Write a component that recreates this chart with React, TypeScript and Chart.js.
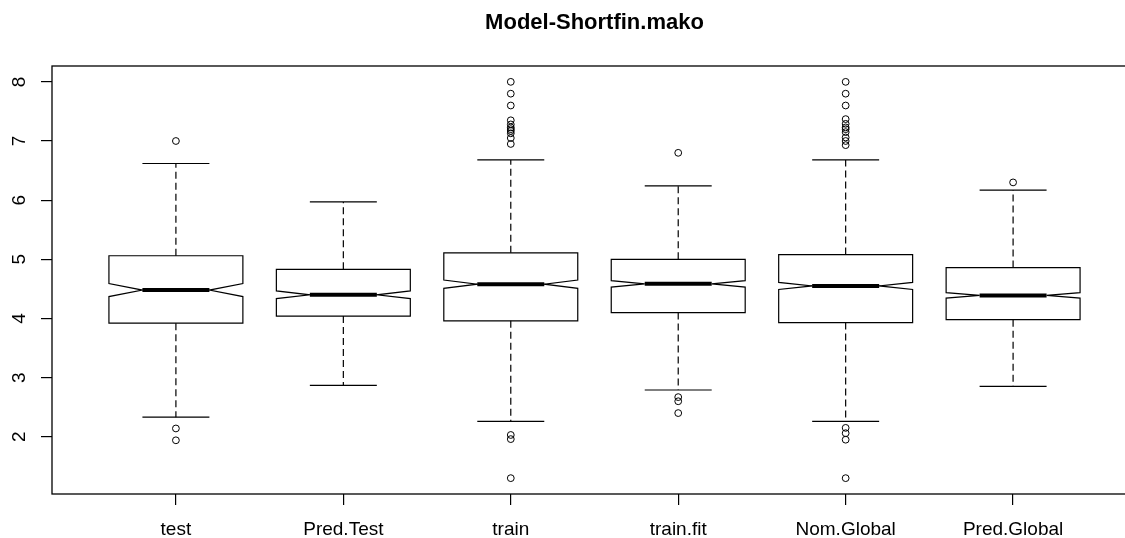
import React, { useEffect, useRef } from "react";
import { Chart, registerables } from "chart.js";

Chart.register(...registerables);

// Notched box plot of observed vs predicted lengths
const title = "Model-Shortfin.mako";
const categories = ["test", "Pred.Test", "train", "train.fit", "Nom.Global", "Pred.Global"];
const whiskerLow = [2.33, 2.87, 2.26, 2.79, 2.26, 2.85];
const lowerQuartile = [3.92, 4.04, 3.96, 4.1, 3.93, 3.98];
const notchLow = [4.37, 4.335, 4.51, 4.53, 4.49, 4.345];
const medians = [4.48, 4.4, 4.58, 4.585, 4.55, 4.39];
const notchHigh = [4.59, 4.465, 4.65, 4.64, 4.61, 4.435];
const upperQuartile = [5.06, 4.83, 5.11, 5.0, 5.08, 4.86];
const whiskerHigh = [6.62, 5.97, 6.68, 6.24, 6.68, 6.17];
const outliers = [
  [7.0, 2.14, 1.94],
  [],
  [8.0, 7.8, 7.6, 7.35, 7.28, 7.23, 7.2, 7.17, 7.13, 7.05, 6.95, 2.03, 1.96, 1.3],
  [6.8, 2.67, 2.6, 2.4],
  [8.0, 7.8, 7.6, 7.37, 7.29, 7.23, 7.2, 7.15, 7.06, 7.0, 6.93, 2.15, 2.06, 1.95, 1.3],
  [6.3],
];
const yTicks = [2, 3, 4, 5, 6, 7, 8];
const xTicks = categories.map((_, i) => i + 1);

const BOX_HALF = 0.4; // half of the box width, in category units
const STAPLE_HALF = 0.2;
const FONT = "'Liberation Sans', Arial, sans-serif";

const boxPlugin = {
  id: "notchedBoxes",
  afterDatasetsDraw(chart: any) {
    const { ctx, scales } = chart;
    const xs = scales.x;
    const ys = scales.y;
    ctx.save();
    ctx.strokeStyle = "#000";
    categories.forEach((_, i) => {
      const c = i + 1;
      const xl = xs.getPixelForValue(c - BOX_HALF);
      const xr = xs.getPixelForValue(c + BOX_HALF);
      const xnl = xs.getPixelForValue(c - BOX_HALF / 2);
      const xnr = xs.getPixelForValue(c + BOX_HALF / 2);
      const xc = xs.getPixelForValue(c);
      const sl = xs.getPixelForValue(c - STAPLE_HALF);
      const sr = xs.getPixelForValue(c + STAPLE_HALF);
      const yq1 = ys.getPixelForValue(lowerQuartile[i]);
      const yq3 = ys.getPixelForValue(upperQuartile[i]);
      const ynl = ys.getPixelForValue(notchLow[i]);
      const ynh = ys.getPixelForValue(notchHigh[i]);
      const ym = ys.getPixelForValue(medians[i]);
      const ywl = ys.getPixelForValue(whiskerLow[i]);
      const ywh = ys.getPixelForValue(whiskerHigh[i]);

      // whiskers
      ctx.lineWidth = 1.2;
      ctx.setLineDash([7, 4]);
      ctx.beginPath();
      ctx.moveTo(xc, yq1);
      ctx.lineTo(xc, ywl);
      ctx.moveTo(xc, yq3);
      ctx.lineTo(xc, ywh);
      ctx.stroke();
      ctx.setLineDash([]);
      // staples
      ctx.beginPath();
      ctx.moveTo(sl, ywl);
      ctx.lineTo(sr, ywl);
      ctx.moveTo(sl, ywh);
      ctx.lineTo(sr, ywh);
      ctx.stroke();

      // notched box outline
      ctx.beginPath();
      ctx.moveTo(xl, yq1);
      ctx.lineTo(xl, ynl);
      ctx.lineTo(xnl, ym);
      ctx.lineTo(xl, ynh);
      ctx.lineTo(xl, yq3);
      ctx.lineTo(xr, yq3);
      ctx.lineTo(xr, ynh);
      ctx.lineTo(xnr, ym);
      ctx.lineTo(xr, ynl);
      ctx.lineTo(xr, yq1);
      ctx.closePath();
      ctx.stroke();

      // median bar
      ctx.lineWidth = 4;
      ctx.beginPath();
      ctx.moveTo(xnl, ym);
      ctx.lineTo(xnr, ym);
      ctx.stroke();
    });
    ctx.restore();
  },
  afterDraw(chart: any) {
    const { ctx, chartArea, scales } = chart;
    ctx.save();
    // plot frame
    ctx.strokeStyle = "#000";
    ctx.lineWidth = 1.3;
    ctx.strokeRect(chartArea.left, chartArea.top, chartArea.right - chartArea.left, chartArea.bottom - chartArea.top);

    ctx.fillStyle = "#000";
    // title
    ctx.font = `bold 22px ${FONT}`;
    ctx.textAlign = "center";
    ctx.textBaseline = "alphabetic";
    ctx.fillText(title, (chartArea.left + chartArea.right) / 2, 29);

    // x axis labels
    ctx.font = `19px ${FONT}`;
    scales.x.ticks.forEach((t: any) => {
      const label = categories[Math.round(t.value) - 1];
      if (label) ctx.fillText(label, scales.x.getPixelForValue(t.value), 535);
    });

    // y axis labels, rotated like R's default
    scales.y.ticks.forEach((t: any) => {
      const y = scales.y.getPixelForValue(t.value);
      ctx.save();
      ctx.translate(24.5, y);
      ctx.rotate(-Math.PI / 2);
      ctx.fillText(String(t.value), 0, 0);
      ctx.restore();
    });
    ctx.restore();
  },
};

export default function App() {
  const ref = useRef<HTMLCanvasElement>(null);

  useEffect(() => {
    if (!ref.current) return;
    const points = outliers.flatMap((vals, i) => vals.map((v) => ({ x: i + 1, y: v })));
    const chart = new Chart(ref.current, {
      type: "scatter",
      data: {
        datasets: [
          {
            label: "outliers",
            data: points,
            pointStyle: "circle",
            pointRadius: 3.4,
            pointBorderWidth: 1,
            borderColor: "#000",
            backgroundColor: "rgba(0,0,0,0)",
          },
        ],
      },
      options: {
        responsive: false,
        animation: false,
        devicePixelRatio: 1,
        layout: { padding: { top: 66, right: 8, left: 0, bottom: 0 } },
        plugins: {
          legend: { display: false },
          tooltip: { enabled: false },
          title: { display: false },
        },
        scales: {
          x: {
            type: "linear",
            min: 0.26,
            max: 6.74,
            afterBuildTicks: (s: any) => {
              s.ticks = xTicks.map((v) => ({ value: v }));
            },
            afterFit: (s: any) => {
              s.height = 44;
            },
            ticks: { display: false },
            grid: { drawOnChartArea: false, drawTicks: true, tickLength: 11, color: "#000", lineWidth: 1.2 },
            border: { display: false },
          },
          y: {
            type: "linear",
            min: 1.032,
            max: 8.268,
            afterBuildTicks: (s: any) => {
              s.ticks = yTicks.map((v) => ({ value: v }));
            },
            afterFit: (s: any) => {
              s.width = 52;
            },
            ticks: { display: false },
            grid: { drawOnChartArea: false, drawTicks: true, tickLength: 11, color: "#000", lineWidth: 1.2 },
            border: { display: false },
          },
        },
      },
      plugins: [boxPlugin],
    });
    return () => chart.destroy();
  }, []);

  return (
    <div
      style={{
        position: "absolute",
        left: 0,
        top: 0,
        width: 1125,
        height: 538,
        overflow: "hidden",
        background: "#fff",
      }}
    >
      <canvas ref={ref} width={1145} height={538} style={{ display: "block", width: 1145, height: 538 }} />
    </div>
  );
}
